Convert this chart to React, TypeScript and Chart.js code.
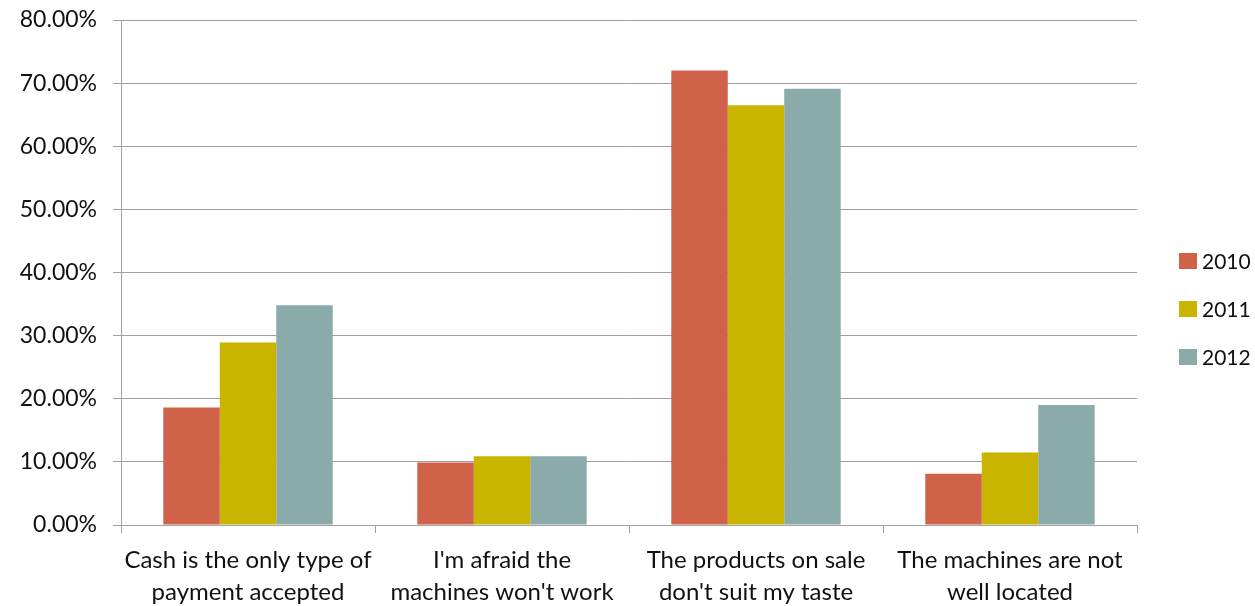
import React, { useEffect, useRef } from "react";
import { Chart, registerables } from "chart.js";

Chart.register(...registerables);

const categories: string[][] = [
  ["Cash is the only type of", "payment accepted"],
  ["I'm afraid the", "machines won't work"],
  ["The products on sale", "don't suit my taste"],
  ["The machines are not", "well located"],
];
const seriesNames = ["2010", "2011", "2012"];
const values2010 = [0.186, 0.099, 0.72, 0.081];
const values2011 = [0.289, 0.109, 0.665, 0.115];
const values2012 = [0.348, 0.109, 0.691, 0.19];
const colors = ["#D0624A", "#C9B400", "#8BABAB"];

const font = "Lato, 'Open Sans', sans-serif";

const sideLegend = {
  id: "sideLegend",
  afterDraw(chart: any) {
    const ctx = chart.ctx;
    const area = chart.chartArea;
    ctx.save();
    ctx.font = `21px ${font}`;
    ctx.textBaseline = "middle";
    ctx.textAlign = "left";
    chart.data.datasets.forEach((ds: any, i: number) => {
      const cy = chart.height / 2 + (i - 1) * 48 + 6;
      const bx = area.right + 42;
      ctx.fillStyle = ds.backgroundColor;
      ctx.fillRect(bx, cy - 8, 18, 16);
      ctx.fillStyle = "#111";
      ctx.fillText(ds.label, bx + 23, cy + 1);
    });
    ctx.restore();
  },
};

export default function App() {
  const ref = useRef<HTMLCanvasElement | null>(null);
  useEffect(() => {
    if (!ref.current) return;
    const chart = new Chart(ref.current, {
      type: "bar",
      data: {
        labels: categories,
        datasets: [values2010, values2011, values2012].map((v, i) => ({
          label: seriesNames[i],
          data: v,
          backgroundColor: colors[i],
          borderWidth: 0,
          categoryPercentage: 0.667,
          barPercentage: 1,
        })),
      },
      options: {
        animation: false,
        responsive: true,
        maintainAspectRatio: false,
        layout: { padding: { top: 20, right: 118, left: 0, bottom: 0 } },
        plugins: {
          tooltip: { enabled: false },
          legend: { display: false },
        },
        scales: {
          x: {
            afterFit: (s: any) => {
              s.height = 81;
              s.paddingLeft = 0;
              s.paddingRight = 0;
            },
            grid: {
              drawOnChartArea: false,
              offset: true,
              tickLength: 8,
              color: "#A0A0A0",
            },
            border: { color: "#A0A0A0" },
            ticks: {
              color: "#111",
              font: { family: font, size: 24, lineHeight: 1.33 },
              maxRotation: 0,
              autoSkip: false,
              padding: 11,
            },
          },
          y: {
            min: 0,
            max: 0.8,
            afterFit: (s: any) => {
              s.width = 121;
              s.paddingTop = 0;
              s.paddingBottom = 0;
            },
            ticks: {
              stepSize: 0.1,
              color: "#111",
              font: { family: font, size: 23 },
              padding: 16,
              callback: (v: any) => (Number(v) * 100).toFixed(2) + "%",
            },
            grid: { color: "#A0A0A0", tickLength: 8 },
            border: { color: "#A0A0A0" },
          },
        },
      },
      plugins: [sideLegend],
    });
    return () => chart.destroy();
  }, []);
  return (
    <div style={{ position: "fixed", left: 0, top: 0, width: 1255, height: 606, background: "#fff" }}>
      <canvas ref={ref} />
    </div>
  );
}
